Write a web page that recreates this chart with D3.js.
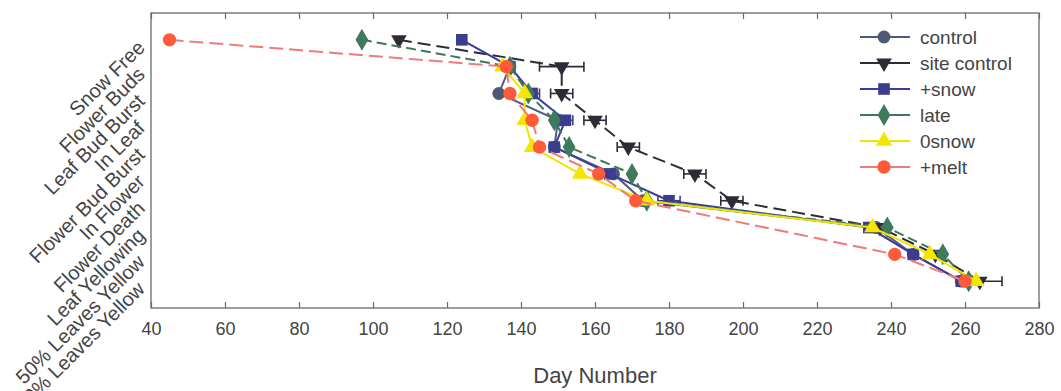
<!DOCTYPE html>
<html>
<head>
<meta charset="utf-8">
<script src="https://cdn.jsdelivr.net/npm/d3@7"></script>
<style>
  html, body { margin: 0; padding: 0; background: #ffffff; }
  svg { display: block; font-family: "Liberation Sans", Arial, sans-serif; }
</style>
</head>
<body>
<svg id="chart" width="1061" height="391"></svg>
<script>
// ---------- data ----------
const stages = ["Snow Free", "Flower Buds", "Leaf Bud Burst", "In Leaf", "Flower Bud Burst",
                "In Flower", "Flower Death", "Leaf Yellowing", "50% Leaves Yellow", "100% Leaves Yellow"];
const xTicks = [40, 60, 80, 100, 120, 140, 160, 180, 200, 220, 240, 260, 280];
const seriesNames = ["control", "site control", "+snow", "late", "0snow", "+melt"];

const controlDays     = [null, 137, 134, 150, 149, 165, 173, 236, 246, 259];
const siteControlDays = [107, 151, 151, 160, 169, 187, 197, 237, 252, 264];
const snowPlusDays    = [124, 137, 143, 152, 149, 164, 180, 234, 246, 259];
const lateDays        = [97, 137, 142, 149, 153, 170, 174, 239, 254, 261];
const zeroSnowDays    = [null, 135, 141, 141, 143, 156, 174, 235, 250.5, 263];
const meltPlusDays    = [45, 136, 137, 143, 145, 161, 171, null, 241, 260];

const siteControlErr  = [0, 6, 3, 3, 3, 3, 3, 0, 0, 6];
const snowPlusErr     = [0, 0, 2, 2, 0, 0, 3, 0, 0, 0];

// ---------- styles ----------
const styles = {
  "control":      {line: "#4e5c7c", fill: "#4d5a72", dash: null,    symbol: d3.symbolCircle,   size: 130, rot: 0},
  "site control": {line: "#2c2c36", fill: "#2c2c36", dash: "13,6",  symbol: d3.symbolTriangle, size: 105, rot: 180},
  "+snow":        {line: "#3b3b9c", fill: "#3b3d8e", dash: null,    symbol: d3.symbolSquare,   size: 135, rot: 0},
  "late":         {line: "#3f7658", fill: "#3f7a5c", dash: "10,5",  symbol: d3.symbolDiamond,  size: 140, rot: 0},
  "0snow":        {line: "#f2e400", fill: "#f4e600", dash: null,    symbol: d3.symbolTriangle, size: 120, rot: 0},
  "+melt":        {line: "#f07a78", fill: "#ff5b3a", dash: "14,6",  symbol: d3.symbolCircle,   size: 140, rot: 0}
};
const seriesData = {
  "control": controlDays, "site control": siteControlDays, "+snow": snowPlusDays,
  "late": lateDays, "0snow": zeroSnowDays, "+melt": meltPlusDays
};
const seriesErr = {"site control": siteControlErr, "+snow": snowPlusErr};

// ---------- layout ----------
const svg = d3.select("#chart");
const L = 151, R = 1039, T = 13, B = 308;
const x = d3.scaleLinear().domain([40, 280]).range([L, R]);
const y = d3.scaleLinear().domain([0, 11]).range([T, B]);
const axisColor = "#6a6a6a";
const textColor = "#444";

// frame
svg.append("rect").attr("x", L).attr("y", T).attr("width", R - L).attr("height", B - T)
  .attr("fill", "none").attr("stroke", axisColor).attr("stroke-width", 1.3);

// x axis bottom (ticks inward)
const xAxis = svg.append("g").attr("transform", `translate(0,${B})`)
  .call(d3.axisBottom(x).tickValues(xTicks).tickSize(-6).tickPadding(14).tickFormat(d3.format("d")));
xAxis.select(".domain").remove();
xAxis.selectAll(".tick line").attr("stroke", axisColor).attr("stroke-width", 1.2);
xAxis.selectAll(".tick text").attr("fill", textColor).style("font-size", "18px")
  .style("font-family", "'Liberation Sans', Arial, sans-serif");

// top ticks
const xTop = svg.append("g").attr("transform", `translate(0,${T})`)
  .call(d3.axisTop(x).tickValues(xTicks).tickSize(-6).tickFormat(""));
xTop.select(".domain").remove();
xTop.selectAll(".tick line").attr("stroke", axisColor).attr("stroke-width", 1.2);

// y labels
const yAxis = svg.append("g").attr("transform", `translate(${L},0)`);
yAxis.selectAll("text").data(stages).join("text")
  .attr("transform", (d, i) => `translate(-5,${y(i + 1) + 9}) rotate(-45)`)
  .attr("text-anchor", "end")
  .attr("fill", textColor)
  .style("font-size", "20px")
  .text(d => d);

// x title
svg.append("text").attr("x", (L + R) / 2).attr("y", 383).attr("text-anchor", "middle")
  .attr("fill", textColor).style("font-size", "22px").text("Day Number");

// ---------- series ----------
const plot = svg.append("g");
seriesNames.forEach(name => {
  const st = styles[name];
  const vals = seriesData[name];
  const pts = vals.map((v, i) => ({v, i})).filter(p => p.v !== null);
  const line = d3.line().x(p => x(p.v)).y(p => y(p.i + 1));
  plot.append("path").datum(pts).attr("d", line)
    .attr("fill", "none").attr("stroke", st.line).attr("stroke-width", 2)
    .attr("stroke-dasharray", st.dash);
  const err = seriesErr[name];
  if (err) {
    pts.forEach(p => {
      const e = err[p.i];
      if (!e) return;
      const yy = y(p.i + 1);
      const g = plot.append("g").attr("stroke", st.fill).attr("stroke-width", 1.6);
      g.append("line").attr("x1", x(p.v - e)).attr("x2", x(p.v + e)).attr("y1", yy).attr("y2", yy);
      g.append("line").attr("x1", x(p.v - e)).attr("x2", x(p.v - e)).attr("y1", yy - 5).attr("y2", yy + 5);
      g.append("line").attr("x1", x(p.v + e)).attr("x2", x(p.v + e)).attr("y1", yy - 5).attr("y2", yy + 5);
    });
  }
  plot.selectAll(null).data(pts).join("path")
    .attr("transform", p => `translate(${x(p.v)},${y(p.i + 1)}) rotate(${st.rot})`)
    .attr("d", d3.symbol().type(st.symbol).size(st.size))
    .attr("fill", st.fill);
});

// ---------- legend ----------
const legend = svg.append("g").attr("transform", "translate(860,37)");
seriesNames.forEach((name, k) => {
  const st = styles[name];
  const g = legend.append("g").attr("transform", `translate(0,${k * 26})`);
  g.append("line").attr("x1", 0).attr("x2", 50).attr("y1", 0).attr("y2", 0)
    .attr("stroke", st.line).attr("stroke-width", 2);
  g.append("path").attr("transform", `translate(24,0) rotate(${st.rot})`)
    .attr("d", d3.symbol().type(st.symbol).size(st.size)).attr("fill", st.fill);
  g.append("text").attr("x", 60).attr("y", 7).attr("fill", textColor)
    .style("font-size", "19px").text(name);
});
</script>
</body>
</html>
